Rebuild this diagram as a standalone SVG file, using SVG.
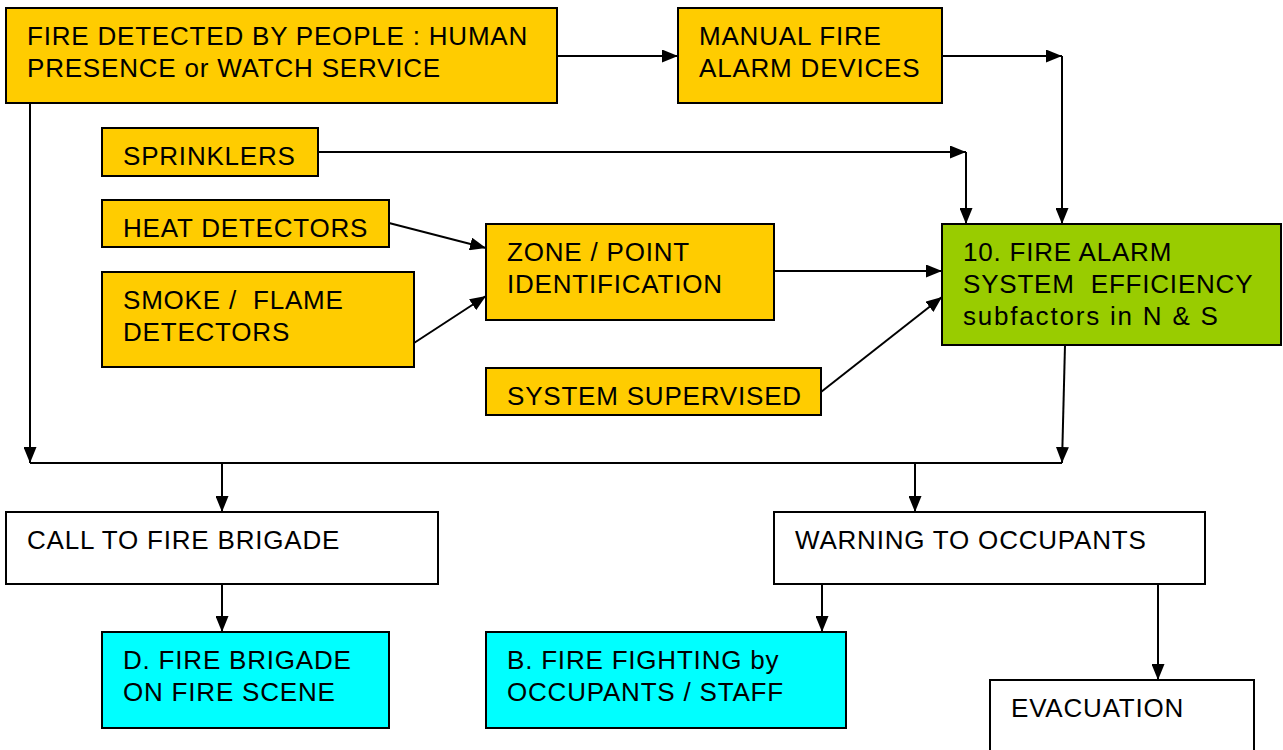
<svg xmlns="http://www.w3.org/2000/svg" width="1283" height="750" viewBox="0 0 1283 750">
  <style>
    .box { stroke: #000; stroke-width: 2; }
    .amber { fill: #FFCC00; }
    .green { fill: #99CC00; }
    .cyan { fill: #00FFFF; }
    .white { fill: #FFFFFF; }
    text { font-family: "Liberation Sans", Arial, sans-serif; font-size: 26px; fill: #000; letter-spacing: 0.8px; }
    .wire { fill: none; stroke: #000; stroke-width: 2; }
    .arr { marker-end: url(#head); }
  </style>
  <defs>
    <marker id="head" viewBox="0 0 16 13" refX="16" refY="6.5" markerWidth="16" markerHeight="13" markerUnits="userSpaceOnUse" orient="auto">
      <path d="M0,0 L16,6.5 L0,13 Z" fill="#000"/>
    </marker>
  </defs>

  <rect width="1283" height="750" fill="#FFFFFF"/>

  <!-- connectors -->
  <g id="connectors">
    <line class="wire arr" x1="557" y1="56" x2="678" y2="56"/>
    <line class="wire arr" x1="942" y1="56" x2="1062" y2="56"/>
    <line class="wire arr" x1="1062" y1="56" x2="1062" y2="224"/>
    <line class="wire arr" x1="318" y1="152" x2="966" y2="152"/>
    <line class="wire arr" x1="966" y1="152" x2="966" y2="224"/>
    <line class="wire arr" x1="389" y1="223" x2="486" y2="248"/>
    <line class="wire arr" x1="414" y1="343" x2="486" y2="296"/>
    <line class="wire arr" x1="774" y1="271" x2="942" y2="271"/>
    <line class="wire arr" x1="821" y1="392" x2="942" y2="297"/>
    <line class="wire arr" x1="30" y1="103" x2="30" y2="463"/>
    <line class="wire arr" x1="1065" y1="345" x2="1062" y2="463"/>
    <line class="wire" x1="30" y1="463" x2="1062" y2="463" stroke-width="2.5"/>
    <line class="wire arr" x1="222" y1="463" x2="222" y2="512"/>
    <line class="wire arr" x1="915" y1="463" x2="915" y2="512"/>
    <line class="wire arr" x1="222" y1="584" x2="222" y2="632"/>
    <line class="wire arr" x1="822" y1="584" x2="822" y2="632"/>
    <line class="wire arr" x1="1158" y1="584" x2="1158" y2="680"/>
  </g>

  <g id="fire-detected-by-people">
    <rect class="box amber" x="6" y="8" width="551" height="95"/>
    <text x="27" y="45">FIRE DETECTED BY PEOPLE : HUMAN</text>
    <text x="27" y="77">PRESENCE or WATCH SERVICE</text>
  </g>

  <g id="manual-fire-alarm-devices">
    <rect class="box amber" x="678" y="8" width="264" height="95"/>
    <text x="699" y="45">MANUAL FIRE</text>
    <text x="699" y="77">ALARM DEVICES</text>
  </g>

  <g id="sprinklers">
    <rect class="box amber" x="102" y="128" width="216" height="48"/>
    <text x="123" y="165">SPRINKLERS</text>
  </g>

  <g id="heat-detectors">
    <rect class="box amber" x="102" y="200" width="287" height="47"/>
    <text x="123" y="237">HEAT DETECTORS</text>
  </g>

  <g id="smoke-flame-detectors">
    <rect class="box amber" x="102" y="272" width="312" height="95"/>
    <text x="123" y="309" xml:space="preserve">SMOKE /  FLAME</text>
    <text x="123" y="341">DETECTORS</text>
  </g>

  <g id="zone-point-identification">
    <rect class="box amber" x="486" y="224" width="288" height="96"/>
    <text x="507" y="261">ZONE / POINT</text>
    <text x="507" y="293">IDENTIFICATION</text>
  </g>

  <g id="system-supervised">
    <rect class="box amber" x="486" y="368" width="335" height="47"/>
    <text x="507" y="405">SYSTEM SUPERVISED</text>
  </g>

  <g id="fire-alarm-system-efficiency">
    <rect class="box green" x="942" y="224" width="339" height="121"/>
    <text x="963" y="261">10. FIRE ALARM</text>
    <text x="963" y="293" xml:space="preserve">SYSTEM  EFFICIENCY</text>
    <text x="963" y="325" style="letter-spacing:1.8px">subfactors in N &amp; S</text>
  </g>

  <g id="call-to-fire-brigade">
    <rect class="box white" x="6" y="512" width="432" height="72"/>
    <text x="27" y="549">CALL TO FIRE BRIGADE</text>
  </g>

  <g id="warning-to-occupants">
    <rect class="box white" x="774" y="512" width="431" height="72"/>
    <text x="795" y="549">WARNING TO OCCUPANTS</text>
  </g>

  <g id="fire-brigade-on-scene">
    <rect class="box cyan" x="102" y="632" width="287" height="96"/>
    <text x="123" y="669">D. FIRE BRIGADE</text>
    <text x="123" y="701">ON FIRE SCENE</text>
  </g>

  <g id="fire-fighting-by-occupants">
    <rect class="box cyan" x="486" y="632" width="360" height="96"/>
    <text x="507" y="669">B. FIRE FIGHTING by</text>
    <text x="507" y="701">OCCUPANTS / STAFF</text>
  </g>

  <g id="evacuation">
    <rect class="box white" x="990" y="680" width="264" height="80"/>
    <text x="1011" y="717">EVACUATION</text>
  </g>
</svg>
